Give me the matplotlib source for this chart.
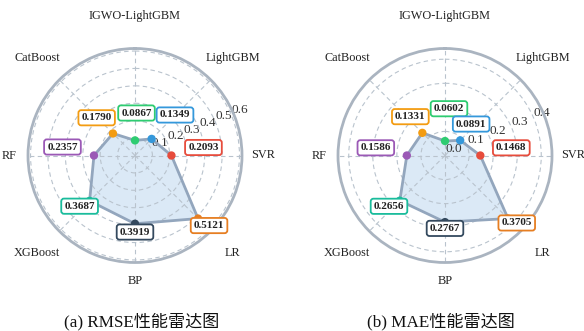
import numpy as np
import matplotlib
matplotlib.use("Agg")
import matplotlib.pyplot as plt

plt.rcParams['font.family'] = ['Liberation Serif', 'Noto Sans CJK SC', 'DejaVu Sans']

categories = ['IGWO-LightGBM', 'LightGBM', 'SVR', 'LR', 'BP', 'XGBoost', 'RF', 'CatBoost']
rmse_values = [0.0867, 0.1349, 0.2093, 0.5121, 0.3919, 0.3687, 0.2357, 0.1790]
mae_values = [0.0602, 0.0891, 0.1468, 0.3705, 0.2767, 0.2656, 0.1586, 0.1331]
rmse_ticks = [0.1, 0.2, 0.3, 0.4, 0.5, 0.6]
mae_ticks = [0.0, 0.1, 0.2, 0.3, 0.4]
colors = ['#2ecc71', '#3498db', '#e74c3c', '#e67e22', '#34495e', '#1abc9c', '#9b59b6', '#f39c12']
captions = ['(a) RMSE性能雷达图', '(b) MAE性能雷达图']

W, H = 584, 331
DPI = 100
fig = plt.figure(figsize=(W / DPI, H / DPI), dpi=DPI)

R = 107  # px radius
PX2PT = 72 / DPI

# per-chart label offsets (pixels, x right, y down)
offsets_left = [(1.5, -27.4), (23.4, -23.9), (32, -8), (11, 7), (0, 8.3),
                (-10, 5.3), (-31.5, -8.5), (-16.3, -15.7)]
offsets_right = [(4, -32.3), (11, -16.3), (31, -7.7), (8.7, 4.4), (0, 6.3),
                 (-10.8, 5.6), (-31, -7.7), (-12, -16.2)]
label_r_px = [140, 138.5, 128, 138.5, 126, 138.5, 126, 138.5]


def draw(cx, values, ticks, offsets, caption, capx):
    ax = fig.add_axes([(cx - R) / W, (H - 155.5 - R) / H, 2 * R / W, 2 * R / H],
                      projection='polar')
    ax.set_theta_offset(np.pi / 2)
    ax.set_theta_direction(-1)
    n = len(categories)
    angles = np.linspace(0, 2 * np.pi, n, endpoint=False)
    ax.set_ylim(0, max(values) * 1.2)
    ax.set_xticks(angles)
    ax.set_xticklabels([])
    ax.set_yticks(ticks)
    ax.set_yticklabels([f'{t:.1f}' for t in ticks], fontsize=9.5, color='#333333')
    ax.set_rlabel_position(67.5)
    ax.grid(True, linestyle=(0, (4, 3)), color='#b9c3cd', linewidth=0.8)
    ax.spines['polar'].set_color('#aab4c0')
    ax.spines['polar'].set_linewidth(2)

    a_closed = np.append(angles, angles[0])
    v_closed = np.append(values, values[0])
    ax.fill(a_closed, v_closed, color='#cfe2f3', alpha=0.75, zorder=1)
    ax.plot(a_closed, v_closed, color='#93a6bd', linewidth=2, zorder=2)
    ax.scatter(angles, values, c=colors, s=36, zorder=3, edgecolors='none')

    for a, v, c, (dx, dy) in zip(angles, values, colors, offsets):
        ax.annotate(f'{v:.4f}', xy=(a, v), xytext=(dx * PX2PT, -dy * PX2PT),
                    textcoords='offset points', ha='center', va='center',
                    fontsize=8, fontweight='bold', color='#222222', zorder=5,
                    bbox=dict(boxstyle='round,pad=0.28,rounding_size=0.25',
                              fc='white', ec=c, lw=1.3))

    for a, lab, rp in zip(angles, categories, label_r_px):
        fx = 0.5 + rp * np.sin(a) / (2 * R)
        fy = 0.5 + rp * np.cos(a) / (2 * R)
        ax.text(fx, fy, lab, transform=ax.transAxes, ha='center', va='center',
                fontsize=8.8, color='#222222')

    fig.text(capx / W, (H - 322) / H, caption, ha='center', va='center',
             fontsize=12.3, color='#111111')


draw(135, rmse_values, rmse_ticks, offsets_left, captions[0], 142)
draw(445, mae_values, mae_ticks, offsets_right, captions[1], 441)

fig.savefig('out.png', dpi=DPI)
